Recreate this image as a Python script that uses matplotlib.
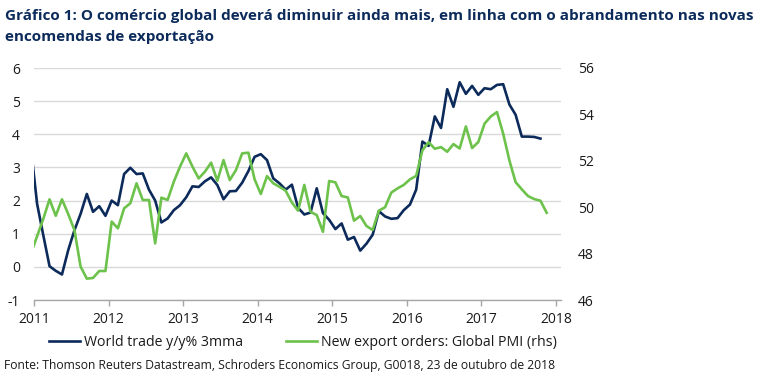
import numpy as np
import matplotlib
matplotlib.use("Agg")
import matplotlib.pyplot as plt
from matplotlib.lines import Line2D

plt.rcParams['font.family'] = ['Open Sans', 'DejaVu Sans']

# Monthly data (mid-month), world trade starts Dec 2010
world_trade = [3.6,
    1.9, 0.95, 0.02, -0.12, -0.23, 0.5, 1.1, 1.6, 2.2, 1.66, 1.83, 1.54,
    2.0, 1.86, 2.8, 2.99, 2.8, 2.82, 2.33, 2.0, 1.34, 1.46, 1.71, 1.86,
    2.1, 2.43, 2.41, 2.58, 2.7, 2.47, 2.04, 2.28, 2.29, 2.54, 2.89, 3.32,
    3.4, 3.22, 2.67, 2.52, 2.33, 2.48, 1.78, 1.58, 1.64, 2.37, 1.62, 1.42,
    1.14, 1.31, 0.82, 0.9, 0.49, 0.7, 0.97, 1.68, 1.52, 1.45, 1.47, 1.71,
    1.88, 2.33, 3.78, 3.65, 4.54, 4.19, 5.36, 4.83, 5.57, 5.22, 5.46, 5.19,
    5.39, 5.36, 5.49, 5.51, 4.9, 4.59, 3.93, 3.93, 3.92, 3.87]

# New export orders: Global PMI (rhs), starts Dec 2010
pmi_export = [48.0,
    48.75, 49.5, 50.34, 49.63, 50.34, 49.71, 49.02, 47.44, 46.92, 46.95, 47.25, 47.25,
    49.38, 49.09, 49.95, 50.17, 51.03, 50.31, 50.31, 48.44, 50.41, 50.31, 51.1, 51.75,
    52.32, 51.75, 51.24, 51.53, 51.92, 51.14, 52.03, 51.17, 51.6, 52.32, 52.35, 51.2,
    50.57, 51.34, 51.03, 50.88, 50.71, 50.2, 49.85, 50.96, 49.8, 49.66, 48.94, 51.13,
    51.07, 50.48, 50.42, 49.42, 49.62, 49.19, 49.02, 49.85, 50.0, 50.63, 50.81, 50.96,
    51.2, 51.35, 52.45, 52.8, 52.52, 52.59, 52.39, 52.72, 52.53, 53.48, 52.55, 52.81,
    53.6, 53.91, 54.1, 53.17, 52.02, 51.08, 50.77, 50.48, 50.35, 50.28, 49.76]

years = [2011, 2012, 2013, 2014, 2015, 2016, 2017, 2018]
left_ticks = [-1, 0, 1, 2, 3, 4, 5, 6]
right_ticks = [46, 48, 50, 52, 54, 56]

label_wt = "World trade y/y% 3mma"
label_pmi = "New export orders: Global PMI (rhs)"
title1 = "Gráfico 1: O comércio global deverá diminuir ainda mais, em linha com o abrandamento nas novas"
title2 = "encomendas de exportação"
source = "Fonte: Thomson Reuters Datastream, Schroders Economics Group, G0018, 23 de outubro de 2018"

BLUE = "#0c2b5b"
GREEN = "#6dc24b"
GRID = "#d9d9d9"
TXT = "#1a1a1a"

x_wt = 2010 + (11 + np.arange(len(world_trade)) + 0.5) / 12
x_pmi = 2010 + (11 + np.arange(len(pmi_export)) + 0.5) / 12

W, H = 757, 388
fig = plt.figure(figsize=(W / 100, H / 100), dpi=100)
ax = fig.add_axes([34 / W, 1 - 300 / H, (561 - 34) / W, (300 - 68) / H])
ax2 = ax.twinx()

ax.set_xlim(2011, 2011 + (561 - 34) / 74.57)
ax.set_ylim(-1, 6)
ax2.set_ylim(46, 56)

ax.set_yticks(left_ticks)
ax.set_yticklabels([str(v) for v in left_ticks])
ax2.set_yticks(right_ticks)
ax2.set_yticklabels([str(v) for v in right_ticks])
ax.set_xticks(years)
ax.set_xticklabels([str(y) for y in years])

for a in (ax, ax2):
    for s in ("top", "left", "right"):
        a.spines[s].set_visible(False)
ax2.spines["bottom"].set_visible(False)
ax.spines["bottom"].set_color("#a6a6a6")
ax.spines["bottom"].set_linewidth(1.0)

ax.grid(axis="y", color=GRID, linewidth=1.0)
ax.set_axisbelow(True)
ax.tick_params(axis="y", length=0, pad=10, labelsize=10, labelcolor=TXT)
ax2.tick_params(axis="y", length=0, pad=12, labelsize=10, labelcolor=TXT)
ax.tick_params(axis="x", length=4.5, width=1.0, color="#a6a6a6", pad=4, labelsize=10, labelcolor=TXT)

ax.plot(x_wt, world_trade, color=BLUE, linewidth=1.9, solid_joinstyle="round", zorder=3)
ax2.plot(x_pmi, pmi_export, color=GREEN, linewidth=1.9, solid_joinstyle="round", zorder=3)

handles = [Line2D([], [], color=BLUE, linewidth=1.9), Line2D([], [], color=GREEN, linewidth=1.9)]
fig.legend(handles, [label_wt, label_pmi], loc="center", bbox_to_anchor=(303 / W, 1 - 342 / H),
           ncol=2, frameon=False, fontsize=10.2, handlelength=2.2, handletextpad=0.3,
           columnspacing=3.0, labelcolor=TXT)

fig.text(5 / W, 1 - 16 / H, title1, fontsize=10.95, fontweight="bold", color=BLUE, va="center", ha="left")
fig.text(5 / W, 1 - 37 / H, title2, fontsize=10.95, fontweight="bold", color=BLUE, va="center", ha="left")
fig.text(4 / W, 1 - 366 / H, source, fontsize=8.7, color=TXT, va="center", ha="left")

fig.savefig("out.png", dpi=100)
